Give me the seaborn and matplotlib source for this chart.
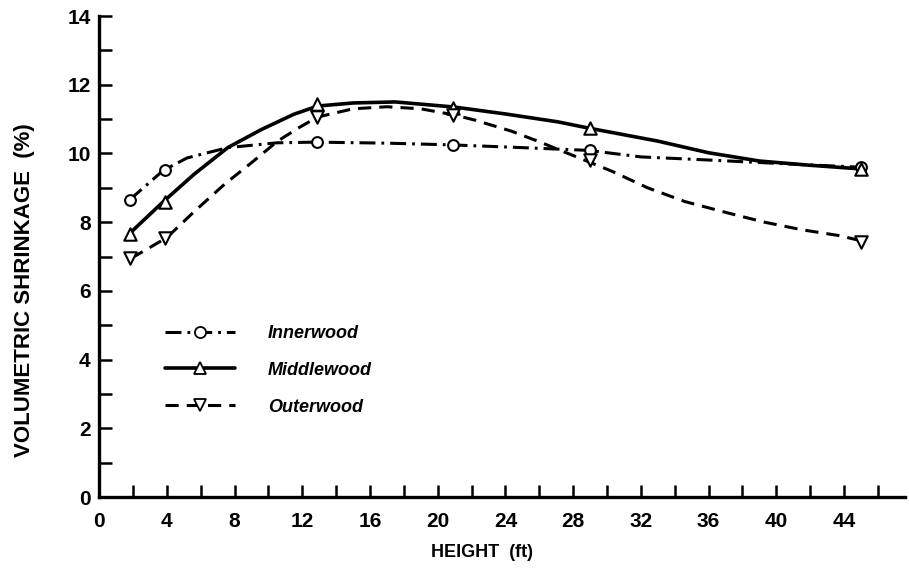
'''
Volumetric shrinkage vs. height for inner-, middle- and outerwood.
'''
import matplotlib
matplotlib.use("Agg")
import matplotlib.pyplot as plt
import seaborn as sns
from matplotlib.lines import Line2D
from matplotlib.ticker import MultipleLocator

# measured points (markers)
height_ft = [1.8, 3.9, 12.9, 20.9, 29.0, 45.0]
inner_pts = [8.65, 9.51, 10.33, 10.25, 10.09, 9.60]
middle_pts = [7.67, 8.60, 11.43, 11.31, 10.73, 9.55]
outer_pts = [6.95, 7.55, 11.06, 11.12, 9.81, 7.43]

# fitted curves
inner_curve_x = [1.8, 3.8, 5.2, 7.6, 10.5, 12.8, 17.0, 20.8, 25.0, 28.9, 32.0, 36.4, 40.9, 45.0]
inner_curve_y = [8.65, 9.51, 9.87, 10.17, 10.31, 10.33, 10.30, 10.25, 10.17, 10.09, 9.90, 9.80, 9.69, 9.60]

middle_curve_x = [1.8, 3.8, 5.6, 7.6, 9.6, 11.5, 12.9, 15.0, 17.5, 21.0, 24.0, 27.1, 29.0,
                  33.0, 36.0, 39.0, 41.9, 45.0]
middle_curve_y = [7.67, 8.60, 9.39, 10.17, 10.70, 11.14, 11.38, 11.47, 11.50, 11.35, 11.15, 10.92, 10.73,
                  10.36, 10.02, 9.78, 9.66, 9.55]

outer_curve_x = [1.9, 4.0, 5.6, 7.4, 9.0, 10.55, 11.8, 12.9, 15.0, 17.0, 19.0, 21.0, 22.2, 24.35,
                 25.9, 28.1, 30.3, 32.4, 34.6, 37.2, 39.3, 41.5, 43.7, 45.0]
outer_curve_y = [6.95, 7.55, 8.30, 9.10, 9.73, 10.36, 10.75, 11.06, 11.30, 11.36, 11.30, 11.12, 10.97, 10.65,
                 10.36, 9.92, 9.48, 9.00, 8.60, 8.26, 8.00, 7.78, 7.61, 7.46]

labels = ["Innerwood", "Middlewood", "Outerwood"]

sns.set_style("ticks")
plt.rcParams["font.family"] = ["Liberation Sans", "DejaVu Sans"]
plt.rcParams["font.weight"] = "bold"
plt.rcParams["axes.labelweight"] = "bold"
plt.rcParams["text.color"] = "black"
plt.rcParams["axes.labelcolor"] = "black"
plt.rcParams["lines.scale_dashes"] = False

fig = plt.figure(figsize=(9.09, 5.73), dpi=100)
ax = fig.add_axes([0.109, 0.1326, 0.8866, 0.8394])

dashdot = (0, (11.5, 4.3, 2.0, 4.3))
dashed = (0, (9.5, 5.8))

series = [
    (inner_curve_x, inner_curve_y, inner_pts, "o", dashdot, 2.2, 60),
    (middle_curve_x, middle_curve_y, middle_pts, "^", "-", 2.6, 80),
    (outer_curve_x, outer_curve_y, outer_pts, "v", dashed, 2.2, 80),
]

handles = []
for cx, cy, pts, mk, ls, lw, size in series:
    sns.lineplot(x=cx, y=cy, ax=ax, color="black", linewidth=lw, linestyle=ls)
    sns.scatterplot(x=height_ft, y=pts, ax=ax, marker=mk, s=size, facecolor="white",
                    edgecolor="black", linewidth=1.5, zorder=3)
    handles.append(Line2D([0], [0], color="black", linewidth=lw, linestyle=ls, marker=mk,
                          markersize=8, markerfacecolor="white", markeredgecolor="black",
                          markeredgewidth=1.3))

ax.set_xlim(0, 47.6)
ax.set_ylim(0, 14)
ax.xaxis.set_major_locator(MultipleLocator(4))
ax.xaxis.set_minor_locator(MultipleLocator(2))
ax.yaxis.set_major_locator(MultipleLocator(2))
ax.yaxis.set_minor_locator(MultipleLocator(1))
ax.tick_params(which="both", direction="in", length=9, width=1.8, colors="black")
ax.tick_params(axis="y", labelsize=15, pad=6)
ax.tick_params(axis="x", labelsize=15, pad=11)

for side in ["top", "right"]:
    ax.spines[side].set_visible(False)
for side in ["left", "bottom"]:
    ax.spines[side].set_linewidth(2.4)
    ax.spines[side].set_color("black")

ax.set_xlabel("HEIGHT  (ft)", fontsize=13)
ax.set_ylabel("VOLUMETRIC SHRINKAGE  (%)", fontsize=16)
ax.xaxis.set_label_coords(0.475, -0.098)
ax.yaxis.set_label_coords(-0.079, 0.43)

leg = ax.legend(handles, labels, loc="upper left", bbox_to_anchor=(0.1815, 0.433),
                bbox_transform=fig.transFigure, frameon=False, borderpad=0, borderaxespad=0,
                handlelength=3.9, handletextpad=1.8, labelspacing=1.1,
                prop={"size": 13, "weight": "bold", "style": "italic"})

fig.savefig("out.png", dpi=100)
